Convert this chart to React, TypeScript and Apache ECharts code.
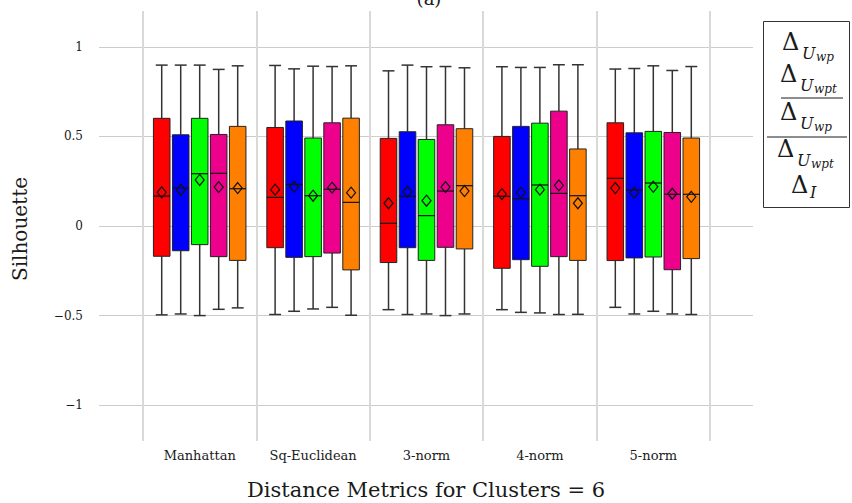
import React, { useEffect, useRef } from 'react';
import * as echarts from 'echarts';

const categories = ['Manhattan', 'Sq-Euclidean', '3-norm', '4-norm', '5-norm'];
const methodNames = ['Δ U_wp', 'Δ U_wpt', 'mean Δ U_wp', 'mean Δ U_wpt', 'Δ I'];
const methodColors = ['#ff0000', '#0000ff', '#00ff00', '#ec008c', '#ff8000'];

// rows: method (red, blue, green, pink, orange); columns: categories
const whiskerHigh = [
  [0.898, 0.896, 0.866, 0.889, 0.876],
  [0.898, 0.877, 0.898, 0.885, 0.879],
  [0.898, 0.892, 0.889, 0.885, 0.894],
  [0.874, 0.890, 0.890, 0.900, 0.868],
  [0.894, 0.894, 0.883, 0.900, 0.890],
];
const quartile3 = [
  [0.601, 0.550, 0.489, 0.500, 0.576],
  [0.509, 0.586, 0.526, 0.556, 0.520],
  [0.601, 0.491, 0.483, 0.574, 0.528],
  [0.511, 0.576, 0.565, 0.641, 0.522],
  [0.556, 0.602, 0.543, 0.430, 0.491],
];
const medians = [
  [0.167, 0.160, 0.015, 0.166, 0.266],
  [0.212, 0.232, 0.166, 0.152, 0.201],
  [0.292, 0.169, 0.058, 0.229, 0.240],
  [0.294, 0.205, 0.195, 0.182, 0.177],
  [0.208, 0.132, 0.225, 0.169, 0.177],
];
const quartile1 = [
  [-0.169, -0.121, -0.204, -0.236, -0.193],
  [-0.138, -0.175, -0.121, -0.188, -0.178],
  [-0.104, -0.171, -0.192, -0.225, -0.173],
  [-0.171, -0.151, -0.119, -0.171, -0.244],
  [-0.192, -0.245, -0.128, -0.192, -0.182],
];
const whiskerLow = [
  [-0.496, -0.494, -0.467, -0.467, -0.454],
  [-0.491, -0.476, -0.494, -0.482, -0.491],
  [-0.500, -0.463, -0.491, -0.485, -0.476],
  [-0.465, -0.454, -0.500, -0.494, -0.491],
  [-0.457, -0.498, -0.491, -0.493, -0.494],
];
const means = [
  [0.188, 0.203, 0.127, 0.178, 0.212],
  [0.201, 0.219, 0.191, 0.186, 0.186],
  [0.257, 0.169, 0.141, 0.203, 0.219],
  [0.217, 0.214, 0.217, 0.227, 0.180],
  [0.212, 0.186, 0.195, 0.127, 0.163],
];

const SLOT = 0.1675;
const BOX_W = 0.146;
const SERIF = '"DejaVu Serif", "Liberation Serif", serif';
const TEXT = '#1a1a1a';

function legendEntry(x0: number, yc: number, sub: string, overline: number[] | null) {
  const children: any[] = [
    { type: 'text', x: x0, y: yc, style: { text: 'Δ', font: `24px ${SERIF}`, fill: TEXT, align: 'left', verticalAlign: 'middle' } },
    { type: 'text', x: x0 + 20, y: yc + 11, style: { text: 'U', font: `italic 16px ${SERIF}`, fill: TEXT, align: 'left', verticalAlign: 'middle' } },
    { type: 'text', x: x0 + 34, y: yc + 15, style: { text: sub, font: `italic 12px ${SERIF}`, fill: TEXT, align: 'left', verticalAlign: 'middle' } },
  ];
  if (overline) {
    children.push({ type: 'line', shape: { x1: overline[0], y1: overline[2], x2: overline[1], y2: overline[2] }, style: { stroke: TEXT, lineWidth: 1 } });
  }
  return children;
}

export default function App() {
  const ref = useRef<HTMLDivElement>(null);
  useEffect(() => {
    const chart = echarts.init(ref.current!, null, { renderer: 'svg' });
    const series = methodNames.map((name, s) => ({
      type: 'custom',
      name,
      xAxisIndex: 1,
      yAxisIndex: 1,
      data: categories.map((_, i) => [
        i,
        whiskerLow[s][i],
        quartile1[s][i],
        medians[s][i],
        quartile3[s][i],
        whiskerHigh[s][i],
        means[s][i],
      ]),
      encode: { x: 0, y: [1, 2, 3, 4, 5, 6] },
      renderItem: (_params: any, api: any) => {
        const i = api.value(0) as number;
        const xc = i + 0.5 + (s - 2) * SLOT;
        const pLo = api.coord([xc, api.value(1)]);
        const pQ1 = api.coord([xc, api.value(2)]);
        const pMed = api.coord([xc, api.value(3)]);
        const pQ3 = api.coord([xc, api.value(4)]);
        const pHi = api.coord([xc, api.value(5)]);
        const pMean = api.coord([xc, api.value(6)]);
        const half = api.coord([xc + BOX_W / 2, 0])[0] - pMed[0];
        const cap = half * 0.72;
        const x = pMed[0];
        const wStyle = { stroke: '#333', lineWidth: 1.5 };
        return {
          type: 'group',
          children: [
            { type: 'line', shape: { x1: x, y1: pHi[1], x2: x, y2: pQ3[1] }, style: wStyle },
            { type: 'line', shape: { x1: x, y1: pQ1[1], x2: x, y2: pLo[1] }, style: wStyle },
            { type: 'line', shape: { x1: x - cap, y1: pHi[1], x2: x + cap, y2: pHi[1] }, style: wStyle },
            { type: 'line', shape: { x1: x - cap, y1: pLo[1], x2: x + cap, y2: pLo[1] }, style: wStyle },
            {
              type: 'rect',
              shape: { x: x - half, y: pQ3[1], width: half * 2, height: pQ1[1] - pQ3[1] },
              style: { fill: methodColors[s], stroke: '#222', lineWidth: 1 },
            },
            { type: 'line', shape: { x1: x - half, y1: pMed[1], x2: x + half, y2: pMed[1] }, style: { stroke: '#111', lineWidth: 1.2 } },
            {
              type: 'polygon',
              shape: {
                points: [
                  [pMean[0], pMean[1] - 5.5],
                  [pMean[0] + 4.5, pMean[1]],
                  [pMean[0], pMean[1] + 5.5],
                  [pMean[0] - 4.5, pMean[1]],
                ],
              },
              style: { fill: 'none', stroke: '#111', lineWidth: 1.2 },
            },
          ],
        };
      },
    }));

    const option: any = {
      animation: false,
      backgroundColor: '#ffffff',
      grid: [
        { left: 99, right: 99, top: 11, bottom: 62 },
        { left: 143, right: 142, top: 11, bottom: 62 },
      ],
      xAxis: [
        { type: 'value', gridIndex: 0, min: 0, max: 1, show: false },
        {
          type: 'value', gridIndex: 1, min: 0, max: 5, interval: 1, position: 'top',
          axisLine: { show: false }, axisTick: { show: false }, axisLabel: { show: false },
          splitLine: { show: true, lineStyle: { color: '#d9d9d9', width: 2 } },
        },
        {
          type: 'category', gridIndex: 1, data: categories, position: 'bottom', boundaryGap: true,
          axisLine: { show: false }, axisTick: { show: false }, splitLine: { show: false },
          axisLabel: { margin: 8, fontFamily: SERIF, fontSize: 13, color: TEXT },
        },
      ],
      yAxis: [
        {
          type: 'value', gridIndex: 0, min: -1.2, max: 1.2,
          axisLine: { show: false }, axisTick: { show: false },
          splitLine: { show: true, showMinLine: false, showMaxLine: false, lineStyle: { color: '#cccccc', width: 1 } },
          axisLabel: {
            margin: 16, fontFamily: SERIF, fontSize: 12, color: TEXT,
            showMinLabel: false, showMaxLabel: false,
            formatter: (v: number) => (v === 0 ? '0' : String(v).replace('-', '\u2212')),
          },
        },
        { type: 'value', gridIndex: 1, min: -1.2, max: 1.2, show: false },
      ],
      series,
      graphic: [
        { type: 'text', x: 429, y: 7, style: { text: '(a)', font: `18px ${SERIF}`, fill: TEXT, align: 'center', verticalAlign: 'bottom' } },
        { type: 'text', x: 426, y: 490, style: { text: 'Distance Metrics for Clusters = 6', font: `21px ${SERIF}`, fill: TEXT, align: 'center', verticalAlign: 'middle' } },
        { type: 'text', x: 20, y: 229, rotation: Math.PI / 2, style: { text: 'Silhouette', font: `20px ${SERIF}`, fill: TEXT, align: 'center', verticalAlign: 'middle' } },
        { type: 'rect', shape: { x: 763.5, y: 21.5, width: 86, height: 186 }, style: { fill: '#fff', stroke: '#333', lineWidth: 1 } },
        { type: 'group', children: legendEntry(782, 42, 'wp', null) },
        { type: 'group', children: legendEntry(780, 74, 'wpt', null) },
        { type: 'group', children: legendEntry(780, 112, 'wp', [781, 843, 98]) },
        { type: 'group', children: legendEntry(777, 149, 'wpt', [767, 847, 137]) },
        {
          type: 'group',
          children: [
            { type: 'text', x: 791, y: 185, style: { text: 'Δ', font: `24px ${SERIF}`, fill: TEXT, align: 'left', verticalAlign: 'middle' } },
            { type: 'text', x: 810, y: 192, style: { text: 'I', font: `italic 16px ${SERIF}`, fill: TEXT, align: 'left', verticalAlign: 'middle' } },
          ],
        },
      ],
    };
    chart.setOption(option);
    return () => chart.dispose();
  }, []);
  return <div ref={ref} style={{ position: 'fixed', left: 0, top: 0, width: 852, height: 503 }} />;
}
